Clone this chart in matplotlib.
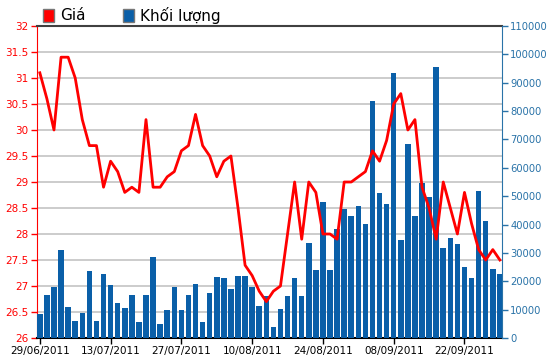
import matplotlib
matplotlib.use("Agg")
import matplotlib.pyplot as plt
import numpy as np
from matplotlib.patches import Rectangle

# giá đóng cửa (nghìn đồng) theo phiên
price = [31.1, 30.6, 30.0, 31.4, 31.4, 31.0, 30.2, 29.7, 29.7, 28.9,
         29.4, 29.2, 28.8, 28.9, 28.8, 30.2, 28.9, 28.9, 29.1, 29.2,
         29.6, 29.7, 30.3, 29.7, 29.5, 29.1, 29.4, 29.5, 28.5, 27.4,
         27.2, 26.9, 26.7, 26.9, 27.0, 28.0, 29.0, 27.9, 29.0, 28.8,
         28.0, 28.0, 27.9, 29.0, 29.0, 29.1, 29.2, 29.6, 29.4, 29.8,
         30.5, 30.7, 30.0, 30.2, 28.9, 28.5, 27.9, 29.0, 28.5, 28.0,
         28.8, 28.2, 27.7, 27.5, 27.7, 27.5]
# khối lượng khớp lệnh
volume = [8300, 15300, 18000, 31200, 10900, 6100, 8800, 23700, 6100, 22400,
          18800, 12300, 10600, 15300, 5650, 15000, 28500, 5100, 9700, 18000,
          9700, 15300, 19200, 5650, 15700, 21500, 21000, 17100, 21900, 21900,
          18000, 11300, 14800, 3900, 10100, 14800, 21000, 14800, 33400, 24100,
          47900, 23800, 38600, 45600, 43000, 46700, 40100, 83500, 51000, 47400,
          93300, 34700, 68500, 43000, 54800, 49800, 95500, 31600, 35400, 33000,
          25000, 21000, 51800, 41300, 24500, 22700]
date_ticks = [0, 10, 20, 30, 40, 50, 60]
date_labels = ["29/06/2011", "13/07/2011", "27/07/2011", "10/08/2011",
               "24/08/2011", "08/09/2011", "22/09/2011"]
price_ticks = np.arange(26, 32.01, 0.5)
vol_ticks = np.arange(0, 110001, 10000)

RED = "#ff0000"
BAR = "#0a5fa8"
AXBLUE = "#2a73a8"

fig = plt.figure(figsize=(5.5, 3.64), dpi=100)
ax = fig.add_axes([37/550, 1-338/364, 465/550, 312/364])
ax2 = ax.twinx()
x = np.arange(len(price))

# cột khối lượng + đường giá (vẽ trên cùng)
ax2.bar(x, volume, width=0.78, color=BAR, zorder=2)
ax2.plot(x, price, color=RED, lw=2, transform=ax.transData, zorder=3)

ax.set_xlim(-0.4, 65.3)
ax.set_ylim(26, 32)
ax2.set_ylim(0, 110000)

ax.set_yticks(price_ticks)
ax.set_yticklabels([f"{v:g}" for v in price_ticks])
ax.grid(axis="y", color="#c8c8c8", lw=1.3)
ax.set_axisbelow(True)
ax.set_xticks(date_ticks)
ax.set_xticklabels(date_labels)
ax2.set_yticks(vol_ticks)
ax2.set_yticklabels([str(v) for v in vol_ticks])

ax.tick_params(axis="y", colors=RED, labelsize=7.5, length=4, width=1, pad=2)
ax.tick_params(axis="x", colors="black", labelsize=7.5, length=4, width=1, pad=2)
ax2.tick_params(axis="y", colors=AXBLUE, labelsize=7.2, length=4, width=1, pad=2)

ax.spines["left"].set_color(RED)
ax.spines["bottom"].set_color("black")
ax.spines["bottom"].set_linewidth(1.5)
ax.spines["top"].set_color("#404040")
ax.spines["top"].set_linewidth(1.5)
ax.spines["right"].set_visible(False)
for s in ["left", "top", "bottom"]:
    ax2.spines[s].set_visible(False)
ax2.spines["right"].set_color(AXBLUE)

# chú thích
fig.add_artist(Rectangle((43/550, 1-22/364), 11/550, 13/364, transform=fig.transFigure,
                         facecolor=RED, edgecolor="#777777", lw=1))
fig.text(60/550, 1-15.5/364, "Giá", fontsize=11, va="center", ha="left")
fig.add_artist(Rectangle((123/550, 1-22/364), 11/550, 13/364, transform=fig.transFigure,
                         facecolor=BAR, edgecolor="#777777", lw=1))
fig.text(140/550, 1-15.5/364, "Khối lượng", fontsize=11, va="center", ha="left")

fig.savefig("out.png", dpi=100)
